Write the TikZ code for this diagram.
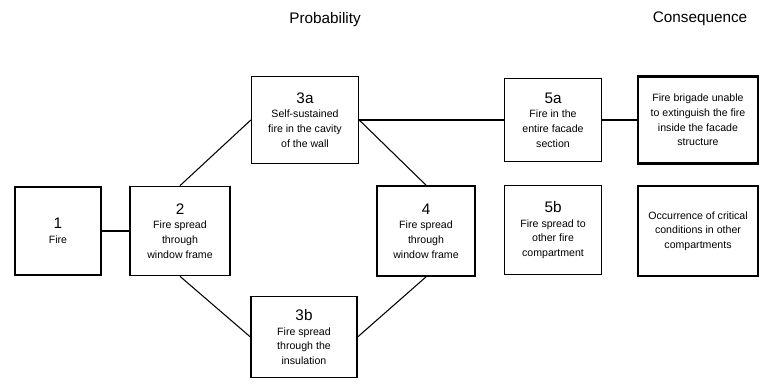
\documentclass[tikz,border=0pt]{standalone}
\usepackage{fontspec}
\setmainfont{Liberation Sans}

\begin{document}
\begin{tikzpicture}[
  x=0.85pt, y=-0.85pt, line width=0.9pt,
  box/.style={draw,line width=1.1pt,inner sep=2pt,align=center,font=\fontsize{9}{12.5}\selectfont},
  tbox/.style={box,line width=2pt},
  num/.style={font=\fontsize{13}{15}\selectfont},
  title/.style={font=\fontsize{13}{15}\selectfont}
]
  \useasboundingbox (0,0) rectangle (762,385);
  \node[title] (tprob) at (325,20) {Probability};
  \node[title] (tcons) at (700,19) {Consequence};
  \node[tbox,minimum width=73pt,minimum height=75pt] (b1) at (58,231) {{\fontsize{13}{15}\selectfont 1}\\Fire};
  \node[box,minimum width=85pt,minimum height=76pt] (b2) at (180,231) {{\fontsize{13}{15}\selectfont 2}\\Fire spread\\through\\window frame};
  \node[box,minimum width=91pt,minimum height=74pt] (b3a) at (305,120) {{\fontsize{13}{15}\selectfont 3a}\\Self-sustained\\fire in the cavity\\of the wall};
  \node[box,minimum width=90pt,minimum height=69pt] (b3b) at (304,337) {{\fontsize{13}{15}\selectfont 3b}\\Fire spread\\through the\\insulation};
  \node[tbox,minimum width=83pt,minimum height=76pt] (b4) at (426,231) {{\fontsize{13}{15}\selectfont 4}\\Fire spread\\through\\window frame};
  \node[box,minimum width=83pt,minimum height=71pt] (b5a) at (553,120) {{\fontsize{13}{15}\selectfont 5a}\\Fire in the\\entire facade\\section};
  \node[box,minimum width=83pt,minimum height=76pt] (b5b) at (553,230) {{\fontsize{13}{15}\selectfont 5b}\\Fire spread to\\other fire\\compartment};
  \node[tbox,minimum width=102pt,minimum height=74pt] (c1) at (698,120) {Fire brigade unable\\to extinguish the fire\\inside the facade\\structure};
  \node[tbox,minimum width=102pt,minimum height=76pt] (c2) at (698,231) {Occurrence of critical\\conditions in other\\compartments};
  \draw (b1) -- (b2);
  \draw (b2.north) -- (b3a.west);
  \draw (b2.south) -- (b3b.west);
  \draw (b3a.east) -- (b4.north);
  \draw (b3b.east) -- (b4.south);
  \draw (b3a.east) -- (b5a.west);
  \draw (b5a) -- (c1);
\end{tikzpicture}
\end{document}
